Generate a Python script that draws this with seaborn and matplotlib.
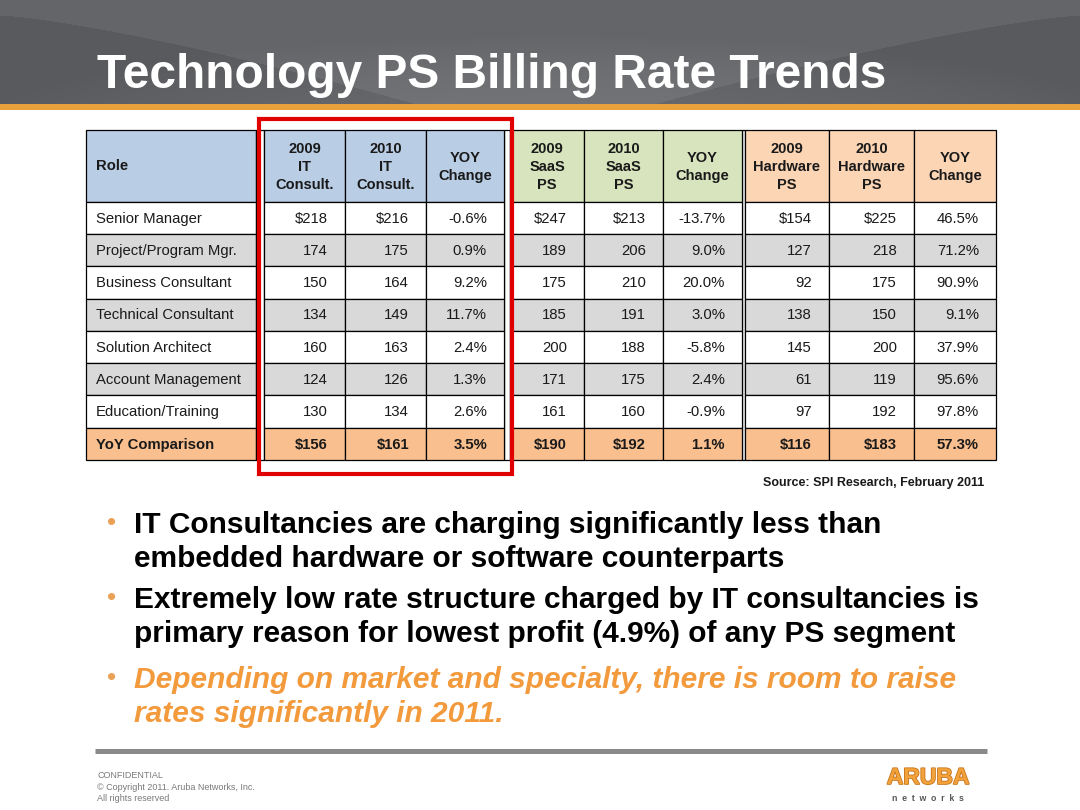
import numpy as np
import matplotlib
matplotlib.use("Agg")
import matplotlib.pyplot as plt
from matplotlib.patches import Rectangle
from matplotlib import font_manager
import matplotlib.patheffects as pe
import seaborn as sns

sns.set_theme(style="white")
plt.rcParams['font.family'] = ['Liberation Sans', 'DejaVu Sans']

# ---------------- data ----------------
title = "Technology PS Billing Rate Trends"
roles = ["Senior Manager", "Project/Program Mgr.", "Business Consultant",
         "Technical Consultant", "Solution Architect", "Account Management",
         "Education/Training"]
total_label = "YoY Comparison"
col_headers = ["2009\nIT\nConsult.", "2010\nIT\nConsult.", "YOY\nChange",
               "2009\nSaaS\nPS", "2010\nSaaS\nPS", "YOY\nChange",
               "2009\nHardware\nPS", "2010\nHardware\nPS", "YOY\nChange"]
it_2009 = [218, 174, 150, 134, 160, 124, 130]
it_2010 = [216, 175, 164, 149, 163, 126, 134]
it_yoy = [-0.6, 0.9, 9.2, 11.7, 2.4, 1.3, 2.6]
saas_2009 = [247, 189, 175, 185, 200, 171, 161]
saas_2010 = [213, 206, 210, 191, 188, 175, 160]
saas_yoy = [-13.7, 9.0, 20.0, 3.0, -5.8, 2.4, -0.9]
hw_2009 = [154, 127, 92, 138, 145, 61, 97]
hw_2010 = [225, 218, 175, 150, 200, 119, 192]
hw_yoy = [46.5, 71.2, 90.9, 9.1, 37.9, 95.6, 97.8]
total_it = [156, 161, 3.5]
total_saas = [190, 192, 1.1]
total_hw = [116, 183, 57.3]
source_note = "Source: SPI Research, February 2011"
bullets = [
    ["IT Consultancies are charging significantly less than",
     "embedded hardware or software counterparts"],
    ["Extremely low rate structure charged by IT consultancies is",
     "primary reason for lowest profit (4.9%) of any PS segment"],
    ["Depending on market and specialty, there is room to raise",
     "rates significantly in 2011."],
]
footer_lines = ["CONFIDENTIAL", "\u00a9 Copyright 2011. Aruba Networks, Inc.",
                "All rights reserved"]

# ---------------- styling ----------------
W, H = 1080, 810
names = {f.name for f in font_manager.fontManager.ttflist}
NARROW = 'Liberation Sans Narrow' if 'Liberation Sans Narrow' in names else 'Liberation Sans'
nscale = 1.0 if NARROW == 'Liberation Sans Narrow' else 0.84

BLUE = '#B9CDE5'
GREEN = '#D7E4BD'
PEACH = '#FCD5B5'
TOTAL = '#FABF8F'
GRAY = '#D9D9D9'
TXT = '#1a1a1a'

fig = plt.figure(figsize=(W / 100, H / 100), dpi=100)
fig.patch.set_facecolor('white')

# background / decoration axes in pixel coordinates
bg = fig.add_axes([0, 0, 1, 1])
bg.set_xlim(0, W)
bg.set_ylim(H, 0)
bg.set_axis_off()

# header band with soft gradient
hh = 105
yy, xx = np.mgrid[0:hh, 0:W].astype(float)
lvl = 0.395 + 0.0 * yy
left_curve = 15 + (xx / 420.0) ** 1.3 * 90
right_curve = 15 + ((W - xx) / 430.0) ** 1.3 * 90
lvl -= 0.045 * (yy > left_curve)
lvl -= 0.045 * (yy > right_curve)
d = ((xx - 560) / 560.0) ** 2 + ((yy - 140) / 95.0) ** 2
lvl += 0.05 * np.clip(1.2 - d, 0, 1)
img = np.dstack([lvl, lvl + 0.004, lvl + 0.015])
bg.imshow(np.clip(img, 0, 1), extent=[0, W, hh, 0], aspect='auto', zorder=0)
bg.add_patch(Rectangle((0, 104), W, 6, facecolor='#E9A23B', edgecolor='none', zorder=1))

bg.text(97, 88, title, color='white', fontsize=34.5, fontweight='bold',
        family='Liberation Sans', va='baseline', ha='left', zorder=3)

# ---------------- table ----------------
col_w = [170, 8, 81, 81, 78, 6, 74, 79, 79, 3, 84, 85, 82]   # layout widths
gap_cols = {1, 5, 9}
edges = np.concatenate([[0], np.cumsum(col_w)])
header_h = 2.23
n_rows = len(roles) + 1

tab = fig.add_axes([86 / W, 1 - 460 / H, edges[-1] / W, 330 / H])
tab.set_xlim(0, edges[-1])
tab.set_ylim(header_h + n_rows, 0)
tab.set_axis_off()

data_cols = [it_2009, it_2010, it_yoy, saas_2009, saas_2010, saas_yoy,
             hw_2009, hw_2010, hw_yoy]
kinds = ['m', 'm', 'p'] * 3
totals = total_it + total_saas + total_hw
hdr_colors = [BLUE] * 3 + [GREEN] * 3 + [PEACH] * 3
value_cols = [i for i in range(len(col_w)) if i not in gap_cols and i != 0]


def fmt(v, kind, dollar):
    if kind == 'p':
        return f"{v:.1f}%"
    return f"${v}" if dollar else f"{v}"


def row_color(r):
    if r == len(roles):
        return TOTAL
    return GRAY if r % 2 == 1 else 'white'


def cell(x, y, w, h, fc):
    tab.add_patch(Rectangle((x, y), w, h, facecolor=fc, edgecolor='black',
                            lw=0.9, clip_on=False))


# role column
x0, w0 = edges[0], col_w[0]
cell(x0, 0, w0, header_h, BLUE)
tab.text(x0 + 10, header_h / 2, "Role", ha='left', va='center', fontsize=12.8 * nscale,
         family=NARROW, fontweight='bold', color=TXT)
for r in range(n_rows):
    y = header_h + r
    cell(x0, y, w0, 1, row_color(r))
    label = roles[r] if r < len(roles) else total_label
    tab.text(x0 + 10, y + 0.52, label, ha='left', va='center',
             fontsize=12.8 * nscale, family=NARROW,
             fontweight='bold' if r == len(roles) else 'normal', color=TXT)

# gap columns (double rule)
for g in gap_cols:
    cell(edges[g], 0, col_w[g], header_h + n_rows, 'white')

# value columns
for k, ci in enumerate(value_cols):
    x, w = edges[ci], col_w[ci]
    cell(x, 0, w, header_h, hdr_colors[k])
    tab.text(x + w / 2, header_h / 2 + 0.03, col_headers[k], ha='center', va='center',
             fontsize=12.5 * nscale, family=NARROW, fontweight='bold', color=TXT,
             linespacing=1.4, multialignment='center')
    for r in range(n_rows):
        y = header_h + r
        cell(x, y, w, 1, row_color(r))
        if r < len(roles):
            s = fmt(data_cols[k][r], kinds[k], r == 0)
            wt = 'normal'
        else:
            s = fmt(totals[k], kinds[k], True)
            wt = 'bold'
        tab.text(x + w - 17, y + 0.52, s, ha='right', va='center',
                 fontsize=12.8 * nscale, family=NARROW, fontweight=wt, color=TXT)

# red highlight box around IT columns
it_left = edges[value_cols[0]] - 5
it_right = edges[value_cols[2] + 1] + 8
tab.add_patch(Rectangle((it_left, -0.33), it_right - it_left, header_h + n_rows + 0.33 + 0.42,
                        facecolor='none', edgecolor='#E00000', lw=3.0, clip_on=False, zorder=5))

bg.text(984, 486, source_note, ha='right', va='baseline', fontsize=10.7 * nscale,
        family=NARROW, fontweight='bold', color=TXT)

# ---------------- bullets ----------------
baselines = [[533, 567], [608, 642], [688, 722]]
for i, (lines, bls) in enumerate(zip(bullets, baselines)):
    last = i == len(bullets) - 1
    color = '#F29A3C' if last else 'black'
    style = 'italic' if last else 'normal'
    bg.text(107, bls[0] - 3, "\u2022", color='#EBA155', fontsize=19, va='baseline',
            ha='left', family='Liberation Sans')
    for ln, b in zip(lines, bls):
        bg.text(134, b, ln, color=color, fontsize=21.5, fontweight='bold',
                fontstyle=style, family='Liberation Sans', va='baseline', ha='left')

# ---------------- footer ----------------
bg.plot([95, 987], [750.5, 750.5], color='#8a8a8a', lw=3.6, solid_capstyle='butt')
for j, t in enumerate(footer_lines):
    bg.text(97, 778 + j * 11.5, t, fontsize=6.5, family=NARROW,
            color='#7a7a7a', va='baseline', ha='left')
bg.text(928, 784, "ARUBA", fontsize=16.5, fontweight='bold', family='Liberation Sans',
        color='#F2A23A', ha='center', va='baseline',
        path_effects=[pe.withStroke(linewidth=1.2, foreground='#C8741E')])
bg.text(928, 801, "n  e  t  w  o  r  k  s", fontsize=6.3, fontweight='bold',
        family='Liberation Sans', color='#555555', ha='center', va='baseline')

fig.savefig("out.png", dpi=100, facecolor='white')
